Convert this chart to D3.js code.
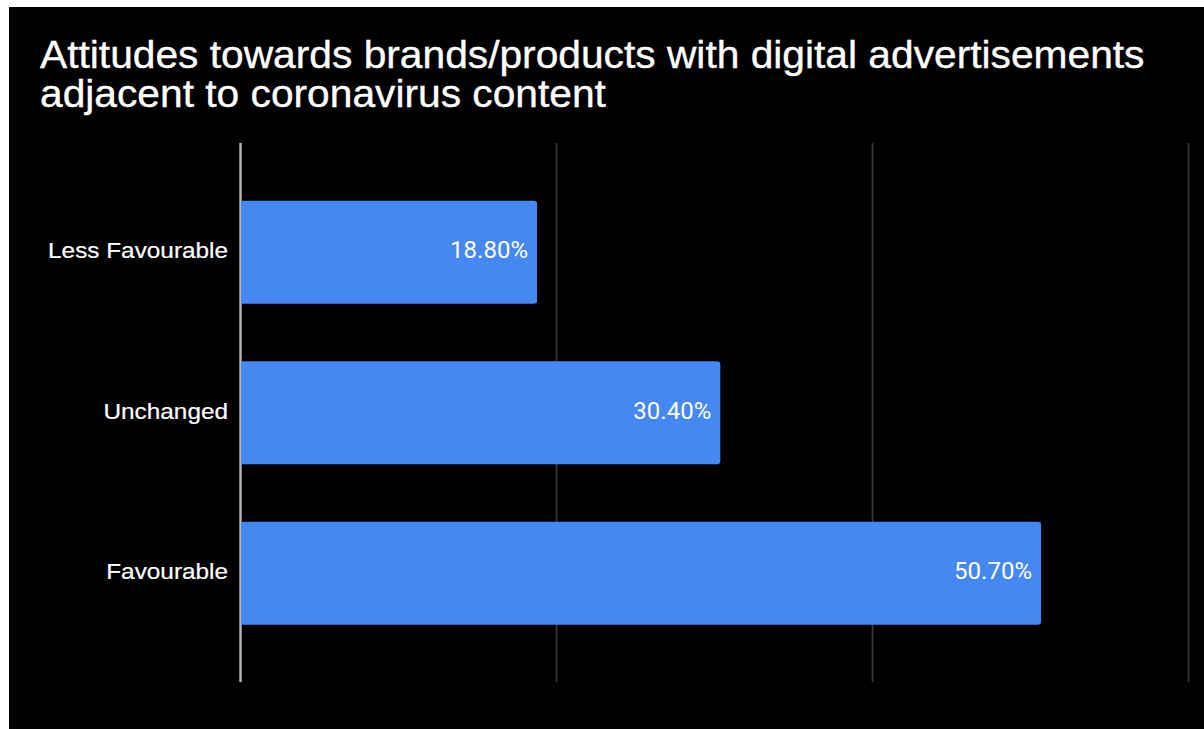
<!DOCTYPE html>
<html>
<head>
<meta charset="utf-8">
<script src="https://cdn.jsdelivr.net/npm/d3@7"></script>
<style>
  html, body { margin: 0; padding: 0; background: #ffffff; }
  svg { display: block; }
</style>
</head>
<body>
<svg id="chart" width="1204" height="729"></svg>
<script>
// Survey responses: share of respondents per attitude
const categories = ["Less Favourable", "Unchanged", "Favourable"];
const values = [18.8, 30.4, 50.7];
const valueLabels = ["18.80%", "30.40%", "50.70%"];
const gridTicks = [0, 20, 40, 60];
const titleLines = [
  "Attitudes towards brands/products with digital advertisements",
  "adjacent to coronavirus content"
];

const svg = d3.select("#chart");

// Black card
svg.append("rect")
  .attr("x", 9).attr("y", 7)
  .attr("width", 1204 - 9).attr("height", 729 - 7)
  .attr("fill", "#000000");

// Title: one text block, two lines, slightly widened glyphs
svg.append("text")
  .attr("transform", "translate(40,68) scale(1.072,1)")
  .attr("font-family", "'Liberation Sans', Arial, sans-serif")
  .attr("font-size", 38)
  .attr("fill", "#ffffff")
  .attr("stroke", "#ffffff")
  .attr("stroke-width", 0.35)
  .selectAll("tspan")
  .data(titleLines)
  .join("tspan")
  .attr("x", 0)
  .attr("dy", (d, i) => i === 0 ? 0 : 39)
  .text(d => d);

// Scales
const x = d3.scaleLinear().domain([0, 60]).range([240, 1188]);
const y = d3.scaleBand()
  .domain(categories)
  .range([172, 653.5])
  .paddingInner(0.358)
  .paddingOuter(0.179);

const gridTop = 143, gridBottom = 682;

// Vertical gridlines
const xAxis = d3.axisBottom(x)
  .tickValues(gridTicks)
  .tickSize(-(gridBottom - gridTop))
  .tickFormat("");
const gx = svg.append("g")
  .attr("transform", `translate(0,${gridBottom})`)
  .call(xAxis);
gx.select(".domain").remove();
gx.selectAll(".tick line")
  .attr("stroke", d => d === 0 ? "#b8b8b8" : "#3a3a3a")
  .attr("stroke-width", d => d === 0 ? 2.4 : 1.6);

// Bars with rounded right-hand corners
const r = 3;
function barPath(v, cat) {
  const x0 = x(0) + 1, x1 = x(v), y0 = y(cat), y1 = y0 + y.bandwidth();
  return `M${x0},${y0} H${x1 - r} Q${x1},${y0} ${x1},${y0 + r} V${y1 - r} Q${x1},${y1} ${x1 - r},${y1} H${x0} Z`;
}
svg.append("g")
  .selectAll("path")
  .data(categories)
  .join("path")
  .attr("d", (c, i) => barPath(values[i], c))
  .attr("fill", "#4688f1");

// Value labels inside bar ends
svg.append("g")
  .selectAll("text")
  .data(categories)
  .join("text")
  .attr("transform", (c, i) => `translate(${x(values[i]) - 9},${y(c) + y.bandwidth() / 2 + 6}) scale(1.045,1)`)
  .attr("text-anchor", "end")
  .attr("font-family", "Roboto, sans-serif")
  .attr("font-size", 23)
  .attr("fill", "#ffffff")
  .text((c, i) => valueLabels[i]);

// Category labels
const yAxis = d3.axisLeft(y).tickSize(0).tickPadding(0);
const gy = svg.append("g").attr("transform", "translate(228,0)").call(yAxis);
gy.select(".domain").remove();
gy.selectAll(".tick text")
  .attr("x", 0)
  .attr("dy", null)
  .attr("y", 6)
  .attr("transform", "scale(1.107,1)")
  .attr("font-family", "'Liberation Sans', Arial, sans-serif")
  .attr("font-size", 22)
  .attr("fill", "#ffffff")
  .attr("stroke", "#ffffff")
  .attr("stroke-width", 0.2)
  .attr("text-anchor", "end");
</script>
</body>
</html>
